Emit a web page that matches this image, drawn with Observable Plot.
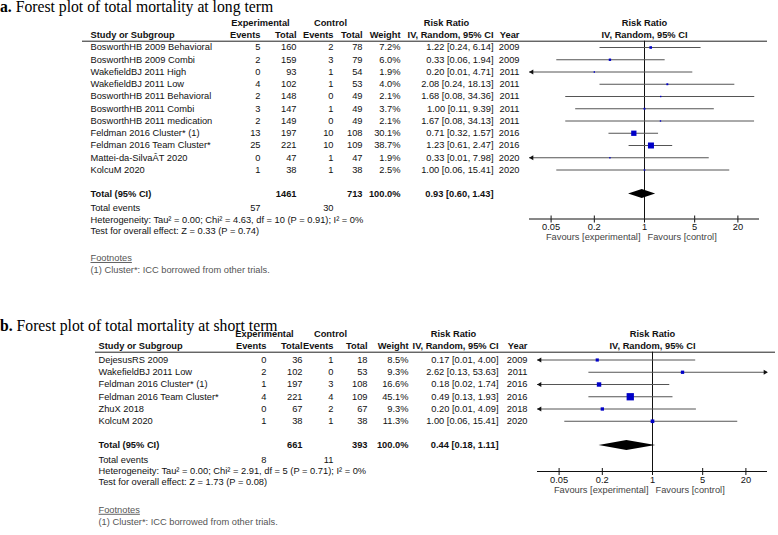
<!DOCTYPE html>
<html><head><meta charset="utf-8">
<script src="https://cdn.jsdelivr.net/npm/d3@7"></script>
<script src="https://cdn.jsdelivr.net/npm/@observablehq/plot@0.6"></script>
<style>
body{margin:0;background:#fff}
#root{position:relative;width:778px;height:535px;overflow:hidden;background:#fff}
.panel{position:absolute;left:0;width:778px}
.panel svg{position:absolute;left:0;top:0}
.title{position:absolute;left:0;font-family:"Liberation Serif","Times New Roman",serif;font-size:15.7px;line-height:11px;white-space:nowrap;color:#000}
</style></head><body><div id="root"></div>
<script>
// ---------- Panel a data ----------
const titleA = "Forest plot of total mortality at long term";
const studiesA = ["BosworthHB 2009 Behavioral","BosworthHB 2009 Combi","WakefieldBJ 2011 High","WakefieldBJ 2011 Low","BosworthHB 2011 Behavioral","BosworthHB 2011 Combi","BosworthHB 2011 medication","Feldman 2016 Cluster* (1)","Feldman 2016 Team Cluster*","Mattei-da-SilvaÂT 2020","KolcuM 2020"];
const expEventsA = [5,2,0,4,2,3,2,13,25,0,1];
const expTotalA = [160,159,93,102,148,147,149,197,221,47,38];
const ctlEventsA = [2,3,1,1,0,1,0,10,10,1,1];
const ctlTotalA = [78,79,54,53,49,49,49,108,109,47,38];
const weightA = [7.2,6.0,1.9,4.0,2.1,3.7,2.1,30.1,38.7,1.9,2.5];
const rrA = [1.22,0.33,0.20,2.08,1.68,1.00,1.67,0.71,1.23,0.33,1.00];
const loA = [0.24,0.06,0.01,0.24,0.08,0.11,0.08,0.32,0.61,0.01,0.06];
const hiA = [6.14,1.94,4.71,18.13,34.36,9.39,34.13,1.57,2.47,7.98,15.41];
const yearA = [2009,2009,2011,2011,2011,2011,2011,2016,2016,2020,2020];
const totalA = {rr: 0.93, lo: 0.60, hi: 1.43, expTotal: 1461, ctlTotal: 713, expEvents: 57, ctlEvents: 30};
const hetA = "Heterogeneity: Tau² = 0.00; Chi² = 4.63, df = 10 (P = 0.91); I² = 0%";
const testA = "Test for overall effect: Z = 0.33 (P = 0.74)";

// ---------- Panel b data ----------
const titleB = "Forest plot of total mortality at short term";
const studiesB = ["DejesusRS 2009","WakefieldBJ 2011 Low","Feldman 2016 Cluster* (1)","Feldman 2016 Team Cluster*","ZhuX 2018","KolcuM 2020"];
const expEventsB = [0,2,1,4,0,1];
const expTotalB = [36,102,197,221,67,38];
const ctlEventsB = [1,0,3,4,2,1];
const ctlTotalB = [18,53,108,109,67,38];
const weightB = [8.5,9.3,16.6,45.1,9.3,11.3];
const rrB = [0.17,2.62,0.18,0.49,0.20,1.00];
const loB = [0.01,0.13,0.02,0.13,0.01,0.06];
const hiB = [4.00,53.63,1.74,1.93,4.09,15.41];
const yearB = [2009,2011,2016,2016,2018,2020];
const totalB = {rr: 0.44, lo: 0.18, hi: 1.11, expTotal: 661, ctlTotal: 393, expEvents: 8, ctlEvents: 11};
const hetB = "Heterogeneity: Tau² = 0.00; Chi² = 2.91, df = 5 (P = 0.71); I² = 0%";
const testB = "Test for overall effect: Z = 1.73 (P = 0.08)";

// ---------- shared labels ----------
const hdrTop = ["Experimental", "Control", "Risk Ratio"];
const hdrCols = ["Study or Subgroup", "Events", "Total", "Events", "Total", "Weight", "IV, Random, 95% CI", "Year"];
const forestHdr = ["Risk Ratio", "IV, Random, 95% CI"];
const axisTicks = [0.05, 0.2, 1, 5, 20];
const favours = ["Favours [experimental]", "Favours [control]"];
const footHdr = "Footnotes";
const footText = "(1) Cluster*: ICC borrowed from other trials.";
const totalLabel = "Total (95% CI)";
const totalEventsLabel = "Total events";

// ---------- layout ----------
const FONT = "Liberation Sans, Arial, sans-serif";
const FS = 9.3;
const layoutA = {top: 0, height: 300, titleTop: 1.3, row0: 47, dy: 12.25, h1: 22.7, h2: 34.7, line: 40.7,
  total: 193.5, totEv: 207.5, het: 219.5, test: 230.5, fnH: 257.5, fn1: 269.5, axis: 218.5, fav: 237,
  study: 90, expEv: 260, expTot: 296, ctlEv: 333, ctlTot: 362, weight: 400, rrR: 493, yearR: 519,
  expHdr: 260, ctlHdr: 330, rrHdr: 446, lineX1: 82, lineX2: 767, fx1: 529, fx2: 759, rmax: 5.45, dh: 4.6};
const layoutB = {top: 300, height: 235, titleTop: 19.5, row0: 59.5, dy: 12.25, h1: 33.5, h2: 46, line: 51.7,
  total: 145, totEv: 159.3, het: 170.7, test: 181.7, fnH: 209.3, fn1: 221.7, axis: 171, fav: 190,
  study: 98, expEv: 266, expTot: 302, ctlEv: 333, ctlTot: 367, weight: 408, rrR: 498, yearR: 527,
  expHdr: 264, ctlHdr: 330, rrHdr: 453, lineX1: 95, lineX2: 775, fx1: 537, fx2: 767, rmax: 6.13, dh: 5};

const dmin = 0.025, dmax = 40;
const root = document.getElementById("root");

function buildPanel(letter, title, cfg, L) {
  const n = cfg.studies.length;
  const rows = cfg.studies.map((s, i) => ({i, study: s, ee: cfg.expEvents[i], et: cfg.expTotal[i],
    ce: cfg.ctlEvents[i], ct: cfg.ctlTotal[i], w: cfg.weight[i], rr: cfg.rr[i], lo: cfg.lo[i], hi: cfg.hi[i], year: cfg.year[i]}));
  const toRow = px => (px - L.row0) / L.dy;
  const yOpt = () => ({domain: [0, n - 1], range: [L.row0, L.row0 + L.dy * (n - 1)], axis: null});
  const T = (data, o) => Plot.text(data, {fontSize: FS, fontFamily: FONT, fill: "#111", ...o});
  const lbl = (s, xp, yp, anchor, o = {}) => T([s], {x: () => xp, y: () => toRow(yp), text: d => d, textAnchor: anchor, ...o});
  const f2 = v => v.toFixed(2);
  const ci = d => `${f2(d.rr)} [${f2(d.lo)}, ${f2(d.hi)}]`;
  const tot = cfg.total;

  const table = Plot.plot({
    width: 778, height: L.height, margin: 0,
    x: {type: "linear", domain: [0, 778], range: [0, 778], axis: null},
    y: yOpt(),
    style: {background: "transparent", overflow: "visible"},
    marks: [
      lbl(hdrTop[0], L.expHdr, L.h1, "middle", {fontWeight: "bold"}),
      lbl(hdrTop[1], L.ctlHdr, L.h1, "middle", {fontWeight: "bold"}),
      lbl(hdrTop[2], L.rrHdr, L.h1, "middle", {fontWeight: "bold"}),
      lbl(hdrCols[0], L.study, L.h2, "start", {fontWeight: "bold"}),
      lbl(hdrCols[1], L.expEv, L.h2, "end", {fontWeight: "bold"}),
      lbl(hdrCols[2], L.expTot, L.h2, "end", {fontWeight: "bold"}),
      lbl(hdrCols[3], L.ctlEv, L.h2, "end", {fontWeight: "bold"}),
      lbl(hdrCols[4], L.ctlTot, L.h2, "end", {fontWeight: "bold"}),
      lbl(hdrCols[5], L.weight, L.h2, "end", {fontWeight: "bold"}),
      lbl(hdrCols[6], L.rrR, L.h2, "end", {fontWeight: "bold"}),
      lbl(hdrCols[7], L.yearR, L.h2, "end", {fontWeight: "bold"}),
      Plot.ruleY([toRow(L.line)], {x1: () => L.lineX1, x2: () => L.lineX2, stroke: "#222", strokeWidth: 1}),
      T(rows, {x: () => L.study, y: "i", text: "study", textAnchor: "start"}),
      T(rows, {x: () => L.expEv, y: "i", text: d => String(d.ee), textAnchor: "end"}),
      T(rows, {x: () => L.expTot, y: "i", text: d => String(d.et), textAnchor: "end"}),
      T(rows, {x: () => L.ctlEv, y: "i", text: d => String(d.ce), textAnchor: "end"}),
      T(rows, {x: () => L.ctlTot, y: "i", text: d => String(d.ct), textAnchor: "end"}),
      T(rows, {x: () => L.weight, y: "i", text: d => d.w.toFixed(1) + "%", textAnchor: "end"}),
      T(rows, {x: () => L.rrR, y: "i", text: ci, textAnchor: "end"}),
      T(rows, {x: () => L.yearR, y: "i", text: d => String(d.year), textAnchor: "end"}),
      lbl(totalLabel, L.study, L.total, "start", {fontWeight: "bold"}),
      lbl(String(tot.expTotal), L.expTot, L.total, "end", {fontWeight: "bold"}),
      lbl(String(tot.ctlTotal), L.ctlTot, L.total, "end", {fontWeight: "bold"}),
      lbl("100.0%", L.weight, L.total, "end", {fontWeight: "bold"}),
      lbl(ci(tot), L.rrR, L.total, "end", {fontWeight: "bold"}),
      lbl(totalEventsLabel, L.study, L.totEv, "start"),
      lbl(String(tot.expEvents), L.expEv, L.totEv, "end"),
      lbl(String(tot.ctlEvents), L.ctlEv, L.totEv, "end"),
      lbl(cfg.het, L.study, L.het, "start"),
      lbl(cfg.test, L.study, L.test, "start"),
      lbl(footHdr, L.study, L.fnH, "start", {fill: "#555"}),
      lbl(footText, L.study, L.fn1, "start", {fill: "#555"})
    ]
  });
  d3.select(table).selectAll("text").filter(function() { return this.textContent === footHdr; })
    .attr("text-decoration", "underline");

  const diamond = [
    {x: tot.lo, y1: toRow(L.total), y2: toRow(L.total)},
    {x: tot.rr, y1: toRow(L.total - L.dh), y2: toRow(L.total + L.dh)},
    {x: tot.hi, y1: toRow(L.total), y2: toRow(L.total)}
  ];
  const F = (s, xv, yp, anchor, o = {}) => T([s], {x: () => xv, y: () => toRow(yp), text: d => d, textAnchor: anchor, ...o});

  const forest = Plot.plot({
    width: 778, height: L.height, marginTop: 0, marginLeft: 0, marginRight: 0, marginBottom: L.height - L.axis,
    x: {type: "log", domain: [dmin, dmax], range: [L.fx1, L.fx2]},
    y: yOpt(),
    r: {type: "sqrt", domain: [0, 100], range: [0, L.rmax]},
    style: {background: "transparent", overflow: "visible", fontFamily: FONT, fontSize: FS + "px", color: "#111"},
    marks: [
      F(forestHdr[0], 1, L.h1, "middle", {fontWeight: "bold"}),
      F(forestHdr[1], 1, L.h2, "middle", {fontWeight: "bold"}),
      Plot.ruleX([1], {x: d => d, y1: () => toRow(L.line), y2: () => toRow(L.axis), stroke: "#111"}),
      Plot.ruleY(rows, {y: "i", x1: d => Math.max(d.lo, dmin), x2: d => Math.min(d.hi, dmax), stroke: "#555"}),
      Plot.dot(rows.filter(d => d.lo < dmin), {x: () => dmin, y: "i", symbol: "triangle", rotate: -90, r: 1.8, fill: "#111", stroke: "none", dx: 2.4}),
      Plot.dot(rows.filter(d => d.hi > dmax), {x: () => dmax, y: "i", symbol: "triangle", rotate: 90, r: 1.8, fill: "#111", stroke: "none", dx: -2.4}),
      Plot.dot(rows, {x: "rr", y: "i", r: "w", symbol: "square", fill: "#0000c8", stroke: "none"}),
      Plot.areaY(diamond, {x: "x", y1: "y1", y2: "y2", fill: "#000", curve: "linear"}),
      Plot.ruleY([toRow(L.axis)], {y: d => d, x1: () => dmin, x2: () => dmax, stroke: "#111"}),
      Plot.ruleX(axisTicks, {x: d => d, y1: () => toRow(L.axis - 3), y2: () => toRow(L.axis), stroke: "#111"}),
      Plot.axisX({anchor: "bottom", ticks: axisTicks, tickFormat: () => "", tickSize: 4, label: null, stroke: "#111"}),
      T(axisTicks, {x: d => d, y: () => toRow(L.axis + 8.5), text: d => String(d), textAnchor: "middle"}),
      F(favours[0], 1, L.fav, "end", {dx: -4, fill: "#444"}),
      F(favours[1], 1, L.fav, "start", {dx: 3, fill: "#444"})
    ]
  });

  const div = document.createElement("div");
  div.className = "panel";
  div.style.top = L.top + "px";
  div.style.height = L.height + "px";
  table.style.position = "absolute";
  forest.style.position = "absolute";
  div.appendChild(table);
  div.appendChild(forest);
  root.appendChild(div);

  const t = document.createElement("div");
  t.className = "title";
  t.style.top = (L.top + L.titleTop) + "px";
  t.innerHTML = `<b>${letter}</b> ${title}`;
  root.appendChild(t);
}

buildPanel("a.", titleA, {studies: studiesA, expEvents: expEventsA, expTotal: expTotalA, ctlEvents: ctlEventsA, ctlTotal: ctlTotalA,
  weight: weightA, rr: rrA, lo: loA, hi: hiA, year: yearA, total: totalA, het: hetA, test: testA}, layoutA);
buildPanel("b.", titleB, {studies: studiesB, expEvents: expEventsB, expTotal: expTotalB, ctlEvents: ctlEventsB, ctlTotal: ctlTotalB,
  weight: weightB, rr: rrB, lo: loB, hi: hiB, year: yearB, total: totalB, het: hetB, test: testB}, layoutB);
</script></body></html>
